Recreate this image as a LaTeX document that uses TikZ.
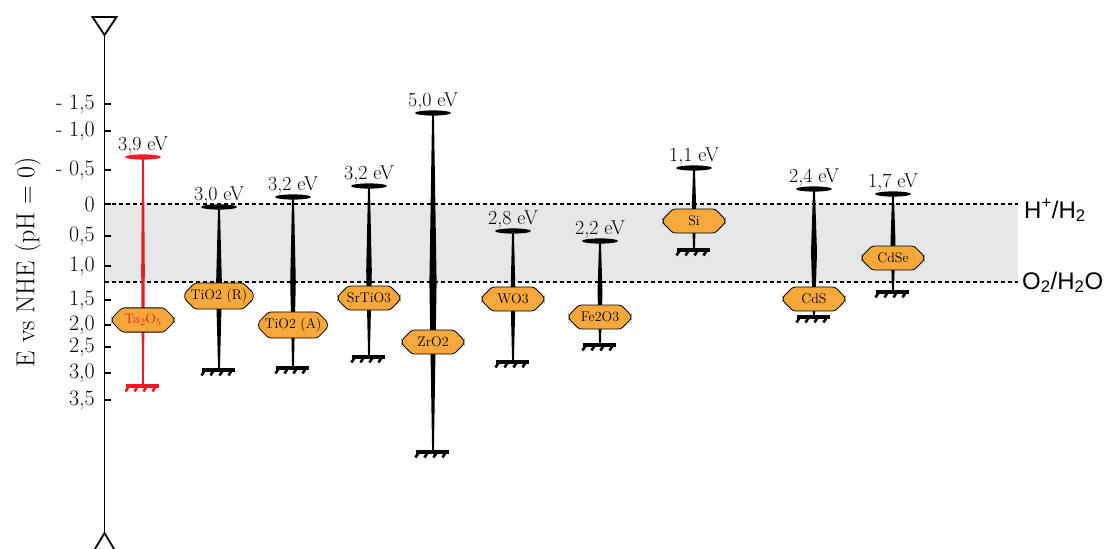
\documentclass[tikz,border=0pt]{standalone}
\usepackage{fontspec}
\newfontfamily\sansf{Liberation Sans}
\usetikzlibrary{calc,shapes.misc}
\definecolor{boxorange}{RGB}{247,168,58}
\definecolor{bandgray}{RGB}{230,231,232}
\definecolor{tared}{RGB}{237,28,36}
% #1 name, #2 x, #3 top, #4 bottom, #5 box y, #6 box text, #7 gap text, #8 colour, #9 half width
\newcommand\material[9]{%
  \coordinate (#1t) at (#2,#3);
  \coordinate (#1b) at (#2,#4);
  \fill[#8] ($(#1t)+(-0.9,0)$) -- ($(#1t)!0.5!(#1b)+(-#9,0)$) -- ($(#1b)+(-0.9,0)$)
     -- ($(#1b)+(0.9,0)$) -- ($(#1t)!0.5!(#1b)+(#9,0)$) -- ($(#1t)+(0.9,0)$) -- cycle;
  \fill[#8] (#1t) ellipse [x radius=18, y radius=2.6];
  \draw[#8, line width=3.2pt] ($(#1b)+(-17,1)$) -- ($(#1b)+(16,1)$);
  \foreach \k in {0,1,2,3}{\draw[#8, line width=2.6pt] ($(#1b)+(-14+\k*9,1)$) -- ++(-3.5,5.5);}
  \node[matbox] (#1) at (#2,#5) {#6};
  \node[gaplbl] (#1g) at ($(#1t)+(0,-7)$) {#7};
}
\begin{document}
\begin{tikzpicture}[x=1pt,y=-1pt,
  matbox/.style={chamfered rectangle, chamfered rectangle xsep=5pt, chamfered rectangle ysep=5pt,
     draw=black, line width=0.8pt, fill=boxorange, minimum width=62pt, minimum height=24pt,
     inner sep=1pt, rounded corners=2.5pt, font=\fontsize{14}{14}\selectfont},
  gaplbl/.style={anchor=base, inner sep=0pt, font=\fontsize{20}{20}\selectfont},
  ticklbl/.style={anchor=east, inner sep=0pt, font=\fontsize{22}{22}\selectfont},
  axisline/.style={line width=1.8pt},
  tickline/.style={line width=1.8pt},
  levelline/.style={dash pattern=on 4pt off 3pt, line width=1.5pt},
  reflbl/.style={anchor=base west, inner sep=0pt, font=\sansf\fontsize{24}{24}\selectfont},
]
\useasboundingbox (0,0) rectangle (1112,549);

% band between redox levels
\coordinate (hl) at (104.5,204); \coordinate (hr) at (1018,204);
\coordinate (ol) at (104.5,282); \coordinate (or) at (1018,282);
\fill[bandgray] (hl) rectangle (or);
\draw[levelline] (hl) -- (hr);
\draw[levelline] (ol) -- (or);
\node[reflbl] (hlab) at (1024,218) {H\textsuperscript{+}/H\textsubscript{2}};
\node[reflbl] (olab) at (1022,289) {O\textsubscript{2}/H\textsubscript{2}O};

% axis
\coordinate (axtop) at (104.5,35);
\coordinate (axbot) at (104.5,533);
\draw[axisline, line join=miter] (92.5,17) -- (116.5,17) -- (axtop) -- cycle;
\draw[axisline, line join=miter] (92.5,553) -- (axbot) -- (116.5,553);
\draw[axisline] (axtop) -- (axbot);

\draw[tickline] (104.5,104) -- (111,104); \node[ticklbl] (t1) at (95,104) {- 1,5};
\draw[tickline] (104.5,131) -- (111,131); \node[ticklbl] (t2) at (95,131) {- 1,0};
\draw[tickline] (104.5,170) -- (111,170); \node[ticklbl] (t3) at (95,170) {- 0,5};
\draw[tickline] (104.5,204) -- (111,204); \node[ticklbl] (t4) at (95,204) {0};
\draw[tickline] (104.5,236) -- (111,236); \node[ticklbl] (t5) at (95,236) {0,5};
\draw[tickline] (104.5,266) -- (111,266); \node[ticklbl] (t6) at (95,266) {1,0};
\draw[tickline] (104.5,300) -- (111,300); \node[ticklbl] (t7) at (95,300) {1,5};
\draw[tickline] (104.5,325) -- (111,325); \node[ticklbl] (t8) at (95,325) {2,0};
\draw[tickline] (104.5,347) -- (111,347); \node[ticklbl] (t9) at (95,347) {2,5};
\draw[tickline] (104.5,373) -- (111,373); \node[ticklbl] (t10) at (95,373) {3,0};
\draw[tickline] (104.5,400) -- (111,400); \node[ticklbl] (t11) at (95,400) {3,5};
\node[rotate=90, inner sep=0pt, font=\fontsize{26}{26}\selectfont] (ylab) at (28,262) {E vs NHE (pH = 0)};

% materials
\material{ta}{143}{157}{385}{320}{\color{tared}Ta\textsubscript{2}O\textsubscript{5}}{\color{black}3,9 eV}{tared}{1.8}
\material{tir}{219}{207}{369}{296}{TiO2 (R)}{3,0 eV}{black}{3}
\material{tia}{293}{197}{367}{325}{TiO2 (A)}{3,2 eV}{black}{2.8}
\material{sr}{369}{186}{356}{298}{SrTiO3}{3,2 eV}{black}{2.8}
\material{zr}{433}{113}{451}{342}{ZrO2}{5,0 eV}{black}{3.6}
\material{wo}{513}{231}{361}{299}{WO3}{2,8 eV}{black}{2.5}
\material{fe}{600}{241}{344}{317}{Fe2O3}{2,2 eV}{black}{2.5}
\material{si}{694}{168}{249}{221}{Si}{1,1 eV}{black}{2.2}
\material{cds}{814}{189}{316}{299}{CdS}{2,4 eV}{black}{3}
\material{cdse}{893}{194}{291}{258}{CdSe}{1,7 eV}{black}{2.5}
\end{tikzpicture}
\end{document}
